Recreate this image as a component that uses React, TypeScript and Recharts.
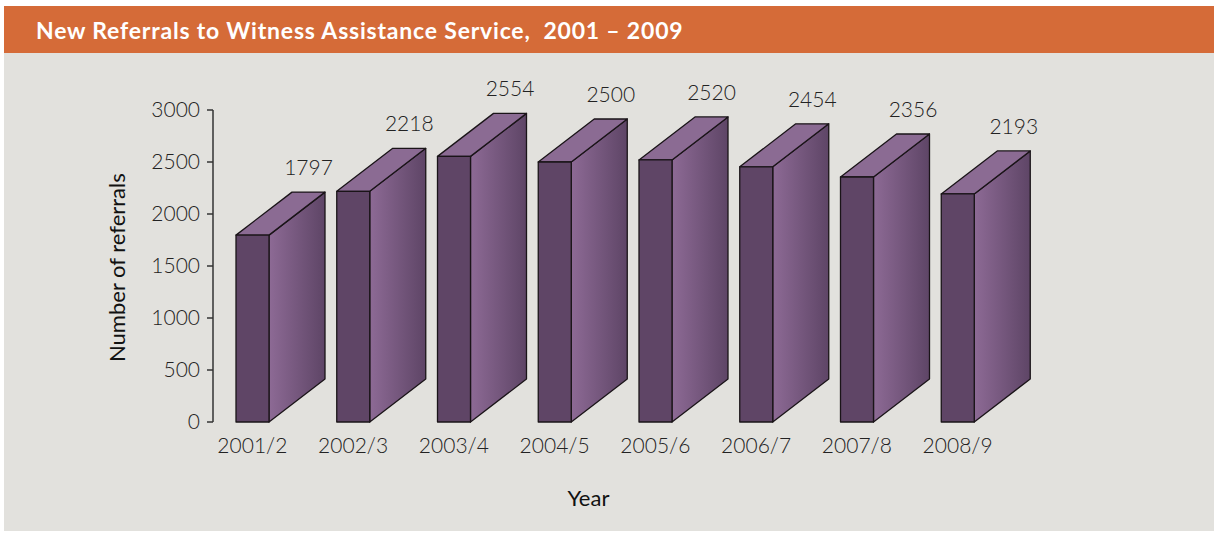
import React from 'react';
import { BarChart, Bar, XAxis, YAxis, LabelList } from 'recharts';

const YEARS = ['2001/2', '2002/3', '2003/4', '2004/5', '2005/6', '2006/7', '2007/8', '2008/9'];
const REFERRALS = [1797, 2218, 2554, 2500, 2520, 2454, 2356, 2193];
const Y_TICKS = [0, 500, 1000, 1500, 2000, 2500, 3000];

const FRONT = 33; // width of the front face, rest of the bar slot is depth
const RISE = 43; // how far the back edge sits above the front
const FONT = 'Lato, "Open Sans", sans-serif';

const chartData = YEARS.map((year, i) => ({ year, value: REFERRALS[i] }));

const Box3D = (props: any) => {
  const { x, y, width, height } = props;
  const d = width - FRONT;
  const side = `${x + FRONT},${y} ${x + width},${y - RISE} ${x + width},${y + height - RISE} ${x + FRONT},${y + height}`;
  const top = `${x},${y} ${x + d},${y - RISE} ${x + width},${y - RISE} ${x + FRONT},${y}`;
  return (
    <g stroke="#1a1418" strokeWidth={1.3} strokeLinejoin="round">
      <polygon points={side} fill="url(#sideGrad)" />
      <polygon points={top} fill="#8b6b93" />
      <rect x={x} y={y} width={FRONT} height={height} fill="#5f4566" />
    </g>
  );
};

const ValueLabel = (props: any) => {
  const { x, y, width, value } = props;
  const d = width - FRONT;
  return (
    <text x={x + FRONT / 2 + d} y={y - RISE - 17} textAnchor="middle" fontFamily={FONT} fontWeight={300} fontSize={21} fill="#222">
      {value}
    </text>
  );
};

const YearTick = (props: any) => {
  const { x, y, payload } = props;
  return (
    <text x={x - 28} y={y + 23} textAnchor="middle" fontFamily={FONT} fontWeight={300} fontSize={21} fill="#222">
      {payload.value}
    </text>
  );
};

const App = () => {
  return (
    <div style={{ position: 'absolute', left: 4, top: 6, width: 1210, height: 525, background: '#e2e1dd' }}>
      <div
        style={{
          height: 47,
          background: '#d56b38',
          color: '#fff',
          fontFamily: FONT,
          fontWeight: 700,
          fontSize: 23,
          letterSpacing: 0.8,
          whiteSpace: 'pre',
          lineHeight: '49px',
          paddingLeft: 32,
        }}
      >
        New Referrals to Witness Assistance Service,  2001 – 2009
      </div>
      <BarChart width={1210} height={478} data={chartData} margin={{ top: 57, right: 178, bottom: 19, left: 90 }}>
        <defs>
          <linearGradient id="sideGrad" x1="0" y1="0" x2="1" y2="0">
            <stop offset="0%" stopColor="#8d6a95" />
            <stop offset="100%" stopColor="#5e4566" />
          </linearGradient>
        </defs>
        <XAxis
          dataKey="year"
          axisLine={false}
          tickLine={false}
          height={90}
          padding={{ left: 17, right: 0 }}
          tick={<YearTick />}
          interval={0}
          label={{ value: 'Year', position: 'insideTop', dx: -36, dy: 63, fontFamily: FONT, fontSize: 22, fill: '#111' }}
        />
        <YAxis
          domain={[0, 3000]}
          ticks={Y_TICKS}
          width={119}
          tickSize={6}
          tickMargin={7}
          axisLine={{ stroke: '#333', strokeWidth: 1.5 }}
          tickLine={{ stroke: '#333', strokeWidth: 1.5 }}
          tick={{ fontFamily: FONT, fontWeight: 300, fontSize: 21, fill: '#222' }}
          label={{
            value: 'Number of referrals',
            angle: -90,
            position: 'insideLeft',
            dx: 18,
            dy: 96,
            fontFamily: FONT,
            fontSize: 22,
            fill: '#111',
          }}
        />
        <Bar dataKey="value" barSize={89} shape={<Box3D />} isAnimationActive={false}>
          <LabelList dataKey="value" content={<ValueLabel />} />
        </Bar>
      </BarChart>
    </div>
  );
};

export default App;
